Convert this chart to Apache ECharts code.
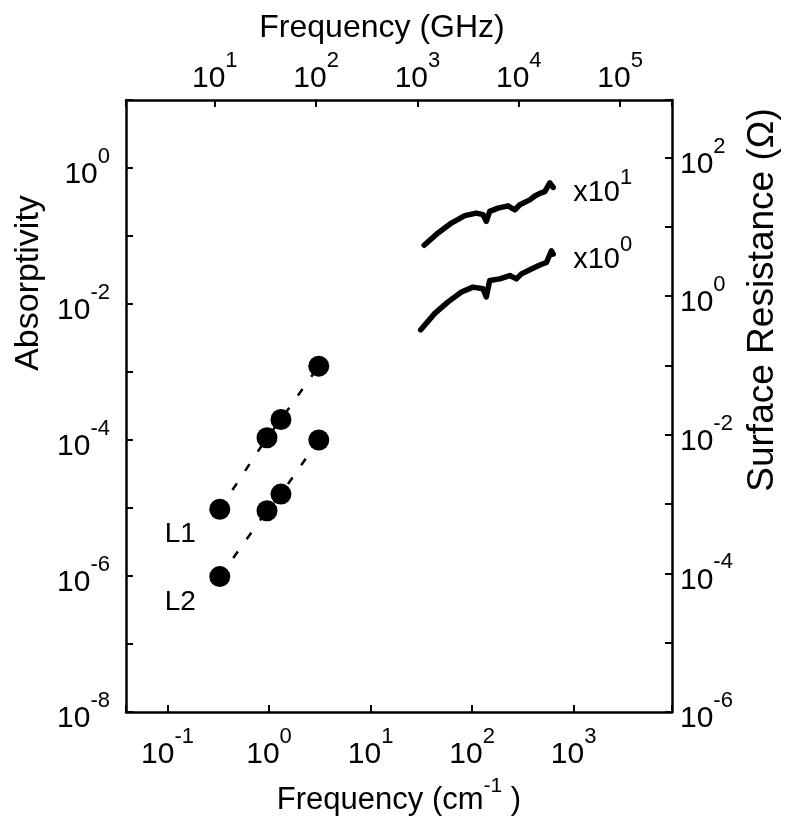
<!DOCTYPE html>
<html>
<head>
<meta charset="utf-8">
<script src="https://cdn.jsdelivr.net/npm/echarts@6/dist/echarts.min.js"></script>
<style>
  html, body { margin: 0; padding: 0; background: #fff; }
  #chart { width: 790px; height: 821px; }
</style>
</head>
<body>
<div id="chart"></div>
<script>
// ---- data ----
// Sample L1 and L2 (Absorptivity vs frequency in cm^-1)
const l1Freq = [0.327, 0.955, 1.31, 3.09];
const l1Abs  = [9.6e-6, 1.08e-4, 2.0e-4, 1.22e-3];
const l2Freq = [0.327, 0.955, 1.31, 3.09];
const l2Abs  = [9.8e-7, 9.1e-6, 1.6e-5, 1.0e-4];

// Infrared curves (upper one shown x10^1)
const upperFreq = [33.7, 46.2, 62.5, 84.8, 110, 128, 138, 149, 180, 226, 264, 295, 370, 415, 465, 520, 583, 629];
const upperAbs  = [0.0731, 0.111, 0.155, 0.199, 0.217, 0.206, 0.164, 0.230, 0.257, 0.278, 0.243, 0.288, 0.340, 0.388, 0.424, 0.449, 0.605, 0.518];
const lowerFreq = [31.2, 42.9, 58.0, 78.5, 102, 128, 138, 149, 187, 235, 273, 306, 384, 465, 540, 604, 629];
const lowerAbs  = [0.00417, 0.00728, 0.01074, 0.0150, 0.0177, 0.0168, 0.0127, 0.0221, 0.0234, 0.0262, 0.0234, 0.0277, 0.0328, 0.0374, 0.0408, 0.0604, 0.0541];

const seriesNames = ['L1', 'L2', 'x10^1', 'x10^0'];
const curveMultipliers = ['1', '0'];

// ---- helpers ----
const FONT = 'Liberation Sans';
const pair = (xs, ys) => xs.map((x, i) => [x, ys[i]]);
function powLabel(v) {
  const l = Math.log10(v);
  const e = Math.round(l);
  if (Math.abs(l - e) > 1e-6) return '';
  return '{b|10}{s|' + e + '}';
}
function powLabelEven(v) {
  const l = Math.log10(v);
  const e = Math.round(l);
  if (Math.abs(l - e) > 1e-6 || e % 2 !== 0) return '';
  return '{b|10}{s|' + e + '}';
}
const rich = {
  b: { fontFamily: FONT, fontSize: 30, color: '#000', lineHeight: 44, verticalAlign: 'bottom' },
  s: { fontFamily: FONT, fontSize: 22, color: '#000', lineHeight: 24, verticalAlign: 'top' }
};
const axisLine = { show: true, lineStyle: { color: '#000', width: 2.5 } };
const axisTick = { show: true, inside: true, length: 7, lineStyle: { color: '#000', width: 2 } };

function pointLabel(name) {
  return {
    show: true, formatter: name, position: [-29, 36], align: 'center', verticalAlign: 'middle',
    fontFamily: FONT, fontSize: 28, color: '#000'
  };
}
function pointSeries(name, xs, ys) {
  return {
    name: name, type: 'line', xAxisIndex: 0, yAxisIndex: 0,
    data: pair(xs, ys).map((p, i) => i === 0 ? { value: p, label: pointLabel(name) } : p),
    symbol: 'circle', symbolSize: 21, showAllSymbol: true,
    itemStyle: { color: '#000' },
    lineStyle: { color: '#000', width: 2.5, type: [8, 15] },
    label: { show: false },
    z: 3, animation: false
  };
}
function curveSeries(name, xs, ys, mult) {
  return {
    name: name, type: 'line', xAxisIndex: 0, yAxisIndex: 0,
    data: pair(xs, ys), showSymbol: false, symbol: 'none', smooth: false,
    lineStyle: { color: '#000', width: 5.5, cap: 'round', join: 'round' },
    endLabel: {
      show: true, distance: 20, formatter: '{b|x10}{s|' + mult + '}',
      rich: {
        b: { fontFamily: FONT, fontSize: 29, color: '#000', lineHeight: 40, verticalAlign: 'bottom' },
        s: { fontFamily: FONT, fontSize: 22, color: '#000', lineHeight: 24, verticalAlign: 'top' }
      }
    },
    animation: false
  };
}

const chart = echarts.init(document.getElementById('chart'), null, { renderer: 'canvas' });
chart.setOption({
  backgroundColor: '#fff',
  animation: false,
  grid: { left: 126, right: 118, top: 100, bottom: 99, containLabel: false },
  xAxis: [
    {
      type: 'log', logBase: 10, position: 'bottom', min: 0.039, max: 9310,
      axisLine: axisLine, axisTick: axisTick, splitLine: { show: false },
      axisLabel: { margin: 14, formatter: powLabel, rich: rich },
      name: '{t|Frequency (cm}{s|-1}{t| )}', nameLocation: 'middle', nameGap: 64,
      nameTextStyle: {
        rich: {
          t: { fontFamily: FONT, fontSize: 31, color: '#000', lineHeight: 40, verticalAlign: 'bottom' },
          s: { fontFamily: FONT, fontSize: 21, color: '#000', lineHeight: 22, verticalAlign: 'top' }
        }
      }
    },
    {
      type: 'log', logBase: 10, position: 'top', min: 1.33, max: 3.25e5,
      axisLine: axisLine, axisTick: axisTick, splitLine: { show: false },
      axisLabel: { margin: 6, formatter: powLabel, rich: rich },
      name: 'Frequency (GHz)', nameLocation: 'middle', nameGap: 56,
      nameTextStyle: { fontFamily: FONT, fontSize: 32, color: '#000', padding: [0, 34, 0, 0] }
    }
  ],
  yAxis: [
    {
      type: 'log', logBase: 10, position: 'left', min: 1e-8, max: 10,
      axisLine: axisLine, axisTick: axisTick, splitLine: { show: false },
      axisLabel: { margin: 16, formatter: powLabelEven, rich: rich },
      name: 'Absorptivity', nameLocation: 'middle', nameGap: 80, nameRotate: 90,
      nameTextStyle: { fontFamily: FONT, fontSize: 34, color: '#000', padding: [0, 0, 0, 246] }
    },
    {
      type: 'log', logBase: 10, position: 'right', min: 1e-6, max: Math.pow(10, 2.83),
      axisLine: axisLine, axisTick: axisTick, splitLine: { show: false },
      axisLabel: { margin: 8, formatter: powLabelEven, rich: rich },
      name: 'Surface Resistance (Ω)', nameLocation: 'middle', nameGap: 72, nameRotate: 90,
      nameTextStyle: { fontFamily: FONT, fontSize: 37, color: '#000', padding: [0, 0, 0, 212] }
    }
  ],
  series: [
    pointSeries(seriesNames[0], l1Freq, l1Abs),
    pointSeries(seriesNames[1], l2Freq, l2Abs),
    curveSeries(seriesNames[2], upperFreq, upperAbs, curveMultipliers[0]),
    curveSeries(seriesNames[3], lowerFreq, lowerAbs, curveMultipliers[1])
  ]
});
</script>
</body>
</html>
